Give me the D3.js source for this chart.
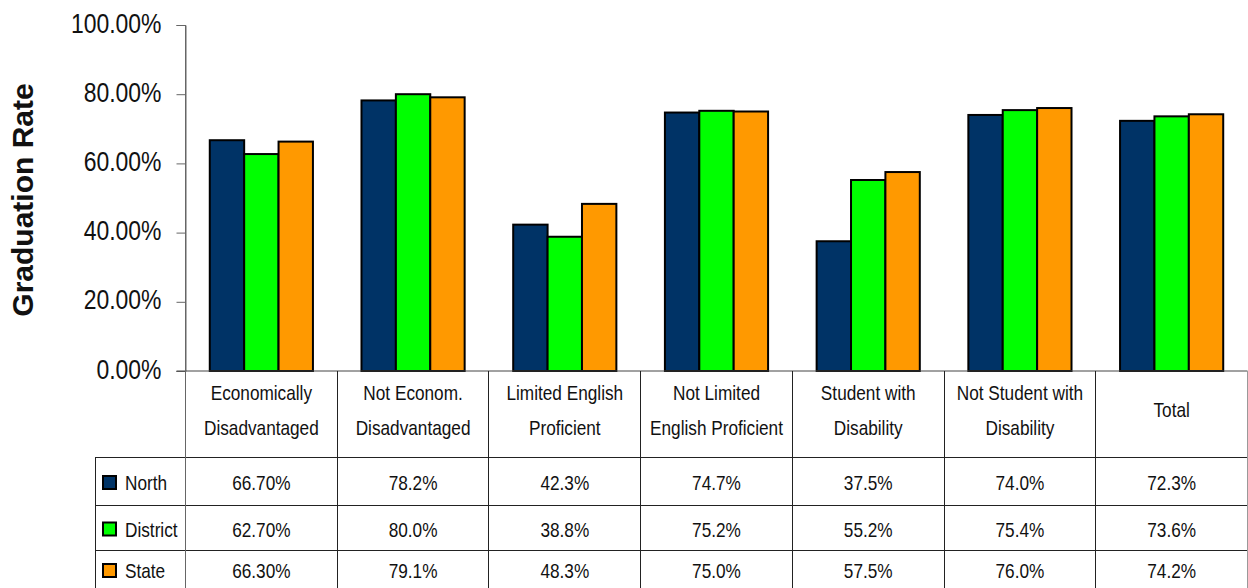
<!DOCTYPE html>
<html>
<head>
<meta charset="utf-8">
<script src="https://cdn.jsdelivr.net/npm/d3@7"></script>
<style>
  body { margin: 0; background: #fff; }
  svg { display: block; }
  text { font-family: "Liberation Sans Narrow", "Arial Narrow", "Liberation Sans", Arial, sans-serif; fill: #111; }
  .ylabel { font-family: "Liberation Sans", Arial, sans-serif; font-weight: bold; }
</style>
</head>
<body>
<svg></svg>
<script>
var categories = [
    ["Economically", "Disadvantaged"],
    ["Not Econom.", "Disadvantaged"],
    ["Limited English", "Proficient"],
    ["Not Limited", "English Proficient"],
    ["Student with", "Disability"],
    ["Not Student with", "Disability"],
    ["Total"]
];
var seriesNames = ["North", "District", "State"];
var north = [66.7, 78.2, 42.3, 74.7, 37.5, 74.0, 72.3];
var district = [62.7, 80.0, 38.8, 75.2, 55.2, 75.4, 73.6];
var state = [66.3, 79.1, 48.3, 75.0, 57.5, 76.0, 74.2];
var northLabels = ["66.70%", "78.2%", "42.3%", "74.7%", "37.5%", "74.0%", "72.3%"];
var districtLabels = ["62.70%", "80.0%", "38.8%", "75.2%", "55.2%", "75.4%", "73.6%"];
var stateLabels = ["66.30%", "79.1%", "48.3%", "75.0%", "57.5%", "76.0%", "74.2%"];
var yTicks = [0, 20, 40, 60, 80, 100];

var colors = ["#003366", "#00ff00", "#ff9900"];
var seriesValues = [north, district, state];
var seriesLabels = [northLabels, districtLabels, stateLabels];

var width = 1248, height = 588;
var axisX = 185.5;
var baseY = 371;
var tableTop = 457, rowYs = [457, 505, 550, 588];
var legendLeft = 95.5;
var narrow = 0.82; // no Arial Narrow installed, squeeze the regular face

// sans narrow text helper: squeeze horizontally around the anchor point
function place(sel, x, y) {
    return sel.attr("transform", "translate(" + x + "," + y + ") scale(" + narrow + ",1)");
}

var svg = d3.select("svg")
    .attr("width", width)
    .attr("height", height);

var x0 = d3.scaleBand()
    .domain(d3.range(categories.length))
    .range([axisX, 1247.5]);

var x1 = d3.scaleBand()
    .domain(d3.range(seriesNames.length))
    .range([x0.bandwidth() * 0.16, x0.bandwidth() * 0.84]);

var y = d3.scaleLinear()
    .domain([0, 100])
    .range([baseY, 25]);

// bars
var groups = svg.append("g")
    .selectAll("g")
    .data(categories)
    .enter()
    .append("g")
    .attr("transform", function (d, i) {
        return "translate(" + x0(i) + ",0)";
    });

groups.selectAll("rect")
    .data(function (d, i) {
        return seriesValues.map(function (s, j) {
            return {s: j, v: s[i]};
        });
    })
    .enter()
    .append("rect")
    .attr("x", function (d) { return x1(d.s); })
    .attr("y", function (d) { return y(d.v); })
    .attr("width", x1.bandwidth())
    .attr("height", function (d) { return baseY - y(d.v); })
    .attr("fill", function (d) { return colors[d.s]; })
    .attr("stroke", "#000")
    .attr("stroke-width", 2);

// y axis
var yAxis = d3.axisLeft(y)
    .tickValues(yTicks)
    .tickSize(9)
    .tickFormat(function (d) { return d.toFixed(2) + "%"; });

var yg = svg.append("g")
    .attr("transform", "translate(" + axisX + ",0)")
    .call(yAxis);
yg.select(".domain").attr("stroke", "#666");
yg.selectAll(".tick line").attr("stroke", "#666");
yg.selectAll(".tick text")
    .attr("font-size", 28)
    .attr("font-family", null)
    .attr("fill", "#111")
    .attr("x", 0)
    .attr("dy", null)
    .attr("transform", "translate(-24,7) scale(" + narrow + ",1)");

svg.append("text")
    .attr("class", "ylabel")
    .attr("transform", "translate(33,200) rotate(-90)")
    .attr("text-anchor", "middle")
    .attr("font-size", 30)
    .text("Graduation Rate");

// table grid
var grid = svg.append("g")
    .attr("stroke", "#222")
    .attr("stroke-width", 1)
    .attr("fill", "none");

grid.append("line")
    .attr("x1", axisX - 9).attr("x2", 1247.5)
    .attr("y1", baseY).attr("y2", baseY)
    .attr("stroke", "#444");

rowYs.slice(0, 3).forEach(function (ry) {
    grid.append("line")
        .attr("x1", legendLeft).attr("x2", 1247.5)
        .attr("y1", ry + 0.5).attr("y2", ry + 0.5);
});

d3.range(categories.length + 1).forEach(function (i) {
    var xx = i < categories.length ? x0(i) : 1247.5;
    grid.append("line")
        .attr("x1", Math.round(xx - 0.5) + 0.5).attr("x2", Math.round(xx - 0.5) + 0.5)
        .attr("y1", i === 0 ? 25 : baseY).attr("y2", height)
        .attr("stroke", i === 0 ? "#666" : (i === categories.length ? "#999" : "#222"));
});

grid.append("line")
    .attr("x1", legendLeft).attr("x2", legendLeft)
    .attr("y1", tableTop).attr("y2", height);

// category labels
groups.each(function (d) {
    var g = d3.select(this);
    var startY = d.length === 1 ? 417 : 400;
    d.forEach(function (line, k) {
        place(g.append("text"), x0.bandwidth() / 2, startY + k * 35)
            .attr("text-anchor", "middle")
            .attr("font-size", 21)
            .text(line);
    });
});

// legend rows + values
seriesNames.forEach(function (name, j) {
    var cy = (rowYs[j] + rowYs[j + 1]) / 2 + 1;
    svg.append("rect")
        .attr("x", 103)
        .attr("y", cy - 6)
        .attr("width", 13)
        .attr("height", 13)
        .attr("fill", colors[j])
        .attr("stroke", "#000")
        .attr("stroke-width", 2);
    place(svg.append("text"), 125, cy + 8)
        .attr("font-size", 21)
        .text(name);

    svg.append("g")
        .selectAll("text")
        .data(seriesLabels[j])
        .enter()
        .append("text")
        .attr("transform", function (d, i) {
            return "translate(" + (x0(i) + x0.bandwidth() / 2) + "," + (cy + 8) + ") scale(" + narrow + ",1)";
        })
        .attr("text-anchor", "middle")
        .attr("font-size", 21)
        .text(function (d) { return d; });
});
</script>
</body>
</html>
